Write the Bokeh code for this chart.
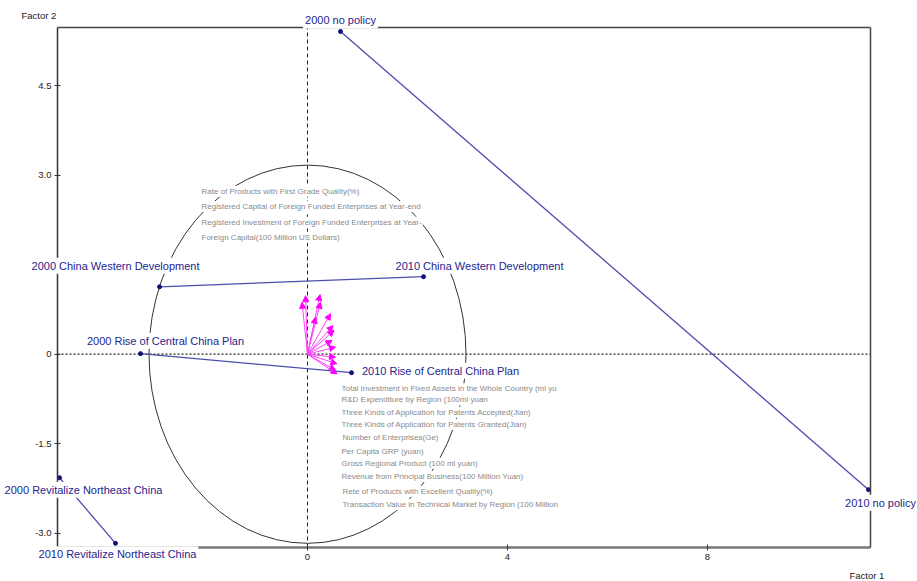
from bokeh.plotting import figure
from bokeh.models import (Range1d, LinearAxis, FixedTicker, Label,
                          Arrow, NormalHead, ColumnDataSource)
from bokeh.embed import file_html
from bokeh.resources import INLINE

# Policy scenario scores on the two factors, in 2000 and in 2010
policies = ["no policy", "China Western Development",
            "Rise of Central China Plan", "Revitalize Northeast China"]
f1_2000 = [0.66, -2.96, -3.34, -4.96]
f2_2000 = [5.41, 1.13, 0.01, -2.07]
f1_2010 = [11.22, 2.32, 0.88, -3.84]
f2_2010 = [-2.27, 1.30, -0.31, -3.17]

# Indicator loadings (variable vectors)
variables = [
    "Rate of Products with First Grade Quality(%)",
    "Registered Capital of Foreign Funded Enterprises at Year-end",
    "Registered Investment of Foreign Funded Enterprises at Year-",
    "Foreign Capital(100 Million US Dollars)",
    "Total Investment in Fixed Assets in the Whole Country (ml yu",
    "R&D Expenditure by Region (100ml yuan",
    "Three Kinds of Application for Patents Accepted(Jian)",
    "Three Kinds of Application for Patents Granted(Jian)",
    "Number of Enterprises(Ge)",
    "Per Capita GRP (yuan)",
    "Gross Regional Product (100 ml yuan)",
    "Revenue from Principal Business(100 Million Yuan)",
    "Rete of Products with Excellent Quality(%)",
    "Transaction Value in Technical Market by Region (100 Million",
]
load_f1 = [-0.04, 0.25, 0.26, -0.11, 0.46, 0.16, 0.51, 0.53,
           0.49, 0.56, 0.56, 0.59, 0.56, 0.59]
load_f2 = [0.98, 1.00, 0.87, 0.87, 0.68, 0.62, 0.48, 0.40,
           0.23, 0.12, -0.05, -0.16, -0.27, -0.33]

# Axis ticks
x_ticks = [0, 4, 8]
y_ticks = [-3.0, -1.5, 0.0, 3.0, 4.5]
y_tick_text = ["-3.0", "-1.5", "0", "3.0", "4.5"]

# Reference circle radius
circle_r = 3.17

# ---- layout / styling ----
X_MIN, X_MAX = -5.0, 11.26          # plotting box on factor 1
Y_MIN, Y_MAX = -3.24, 5.477         # plotting box on factor 2
PX_X, PX_Y = 50.0, 59.65            # pixels per unit
W, H = 917, 581
BOX_L, BOX_T, BOX_R, BOX_B = 57, 27, 870, 547   # box edges in pixels

FONT = "Liberation Sans"
NAVY = "#25258f"
LINE_BLUE = "#4d4db0"
GREY_TXT = "#8a8a8a"

# canvas-wide ranges so that text outside the box is not clipped
xr = Range1d(X_MIN - BOX_L / PX_X, X_MAX + (W - BOX_R) / PX_X)
yr = Range1d(Y_MIN - (H - BOX_B) / PX_Y, Y_MAX + BOX_T / PX_Y)

# label offsets in pixels: (text centre right of point, text centre below point)
off_2000 = [(0, -11), (-44, -21), (25, -13), (24, 12)]
off_2010 = [(12, 13), (56, -11), (89, -2), (2, 11)]

# indicator label rows (data coords of each row's left/middle)
var_label_x = [-2.14] * 4 + [0.66] * 4 + [0.68] + [0.66] * 3 + [0.68] * 2
var_label_y = [2.733, 2.476, 2.213, 1.961,
               -0.58, -0.764, -0.972, -1.179, -1.391,
               -1.626, -1.827, -2.050, -2.297, -2.520]

p = figure(width=W, height=H, output_backend="svg", toolbar_location=None,
           x_range=xr, y_range=yr, min_border=0,
           x_axis_location=None, y_axis_location=None)
p.grid.visible = False
p.outline_line_color = None
p.background_fill_color = "white"
p.border_fill_color = "white"


def style_axis(ax, color, width):
    ax.axis_line_color = color
    ax.axis_line_width = width
    ax.major_tick_line_color = "#333333"
    ax.major_tick_in = 3
    ax.major_tick_out = 3
    ax.minor_tick_line_color = None
    ax.major_label_text_font = FONT
    ax.major_label_text_font_size = "9.5px"
    ax.major_label_text_color = "#222222"


xaxis = LinearAxis(ticker=FixedTicker(ticks=x_ticks), fixed_location=Y_MIN,
                   bounds=(X_MIN, X_MAX))
style_axis(xaxis, "#777777", 2.5)
xaxis.major_label_standoff = 4
p.add_layout(xaxis, "below")

yaxis = LinearAxis(ticker=FixedTicker(ticks=y_ticks), fixed_location=X_MIN,
                   bounds=(Y_MIN, Y_MAX))
style_axis(yaxis, "#333333", 1.5)
yaxis.major_label_standoff = 3
yaxis.major_label_overrides = {t: s for t, s in zip(y_ticks, y_tick_text)}
p.add_layout(yaxis, "left")

# plain box edges on top and right
for side, loc, bnd in (("above", Y_MAX, (X_MIN, X_MAX)),
                       ("right", X_MAX, (Y_MIN, Y_MAX))):
    ax = LinearAxis(ticker=FixedTicker(ticks=[]), fixed_location=loc, bounds=bnd)
    ax.axis_line_color = "#444444"
    ax.axis_line_width = 1.5
    ax.major_tick_line_color = None
    ax.minor_tick_line_color = None
    ax.major_label_text_font_size = "0px"
    p.add_layout(ax, side)

# reference lines through the origin
p.line(x=[0, 0], y=[Y_MIN, Y_MAX], line_color="#222222", line_width=1,
       line_dash="4 3")
p.line(x=[X_MIN, X_MAX], y=[0, 0], line_color="#222222", line_width=1.2,
       line_dash="2 2")

# correlation circle
p.ellipse(x=[0], y=[0], width=[2 * circle_r], height=[2 * circle_r],
          fill_color=None, line_color="#333333", line_width=1)

# policy trajectories 2000 -> 2010
p.segment(x0=f1_2000, y0=f2_2000, x1=f1_2010, y1=f2_2010,
          line_color=LINE_BLUE, line_width=1.3)
p.scatter(x=f1_2000 + f1_2010, y=f2_2000 + f2_2010, size=4,
          fill_color="#10107a", line_color="#10107a")

# indicator vectors
vec_src = ColumnDataSource(dict(x0=[0.0] * len(load_f1), y0=[0.0] * len(load_f1),
                                x1=load_f1, y1=load_f2))
p.add_layout(Arrow(x_start="x0", y_start="y0", x_end="x1", y_end="y1",
                   source=vec_src, line_color="#ff40ff", line_width=1,
                   end=NormalHead(size=6, fill_color="#ff00ff",
                                  line_color="#ff00ff", line_width=1)))

# indicator names
for name, lx, ly in zip(variables, var_label_x, var_label_y):
    p.add_layout(Label(x=lx, y=ly, text=name, text_font=FONT,
                       text_font_size="8px", text_color=GREY_TXT,
                       text_align="left", text_baseline="middle",
                       background_fill_color="white", padding=1))

# policy labels
for year, xs, ys, offs in (("2000", f1_2000, f2_2000, off_2000),
                           ("2010", f1_2010, f2_2010, off_2010)):
    for name, x, y, (dx, dy) in zip(policies, xs, ys, offs):
        p.add_layout(Label(x=x, y=y, x_offset=dx, y_offset=-dy,
                           text=f"{year} {name}", text_font=FONT,
                           text_font_size="11px", text_color=NAVY,
                           text_align="center", text_baseline="middle",
                           background_fill_color="white", padding=2))

# axis titles
p.add_layout(Label(x=X_MIN, y=Y_MAX, x_offset=-36, y_offset=12, text="Factor 2",
                   text_font=FONT, text_font_size="9.5px", text_color="#222222",
                   text_align="left", text_baseline="middle"))
p.add_layout(Label(x=X_MAX, y=Y_MIN, x_offset=-21, y_offset=-28, text="Factor 1",
                   text_font=FONT, text_font_size="9.5px", text_color="#222222",
                   text_align="left", text_baseline="middle"))

open("out.html", "w").write(file_html(p, INLINE))
